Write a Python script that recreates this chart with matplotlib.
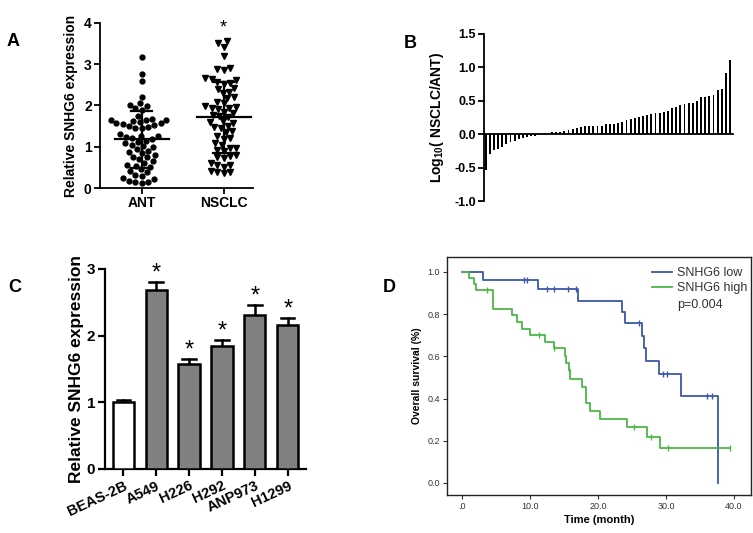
import numpy as np
import matplotlib
matplotlib.use("Agg")
import matplotlib.pyplot as plt

plt.rcParams['font.family'] = ['Liberation Sans', 'DejaVu Sans']
plt.rcParams['mathtext.fontset'] = 'custom'
plt.rcParams['mathtext.rm'] = 'Liberation Sans:bold'
plt.rcParams['mathtext.default'] = 'rm'

# ---------------- data ----------------
# Panel A: scatter of relative SNHG6 expression
group_labels = ["ANT", "NSCLC"]
ant_values = [3.18, 2.76, 2.60, 2.21, 2.05, 2.02, 1.98, 1.93, 1.90,
              1.75, 1.68, 1.66, 1.65, 1.64, 1.62, 1.60, 1.58, 1.57, 1.55,
              1.52, 1.50, 1.48, 1.46, 1.45, 1.30, 1.27, 1.25, 1.24, 1.22,
              1.20, 1.15, 1.12, 1.08, 1.05, 1.02, 1.00, 0.95, 0.90, 0.88,
              0.85, 0.80, 0.76, 0.74, 0.70, 0.65, 0.60, 0.56, 0.54, 0.52,
              0.46, 0.42, 0.38, 0.32, 0.28, 0.25, 0.22, 0.18, 0.15, 0.14, 0.12]
nsclc_values = [3.57, 3.51, 3.43, 3.20, 2.92, 2.88, 2.86, 2.66, 2.64, 2.62,
                2.57, 2.55, 2.52, 2.43, 2.40, 2.33, 2.30, 2.21, 2.18, 2.09,
                2.05, 1.98, 1.96, 1.95, 1.94, 1.92, 1.85, 1.82, 1.76, 1.74,
                1.72, 1.62, 1.60, 1.58, 1.50, 1.48, 1.46, 1.37, 1.35, 1.25,
                1.22, 1.20, 1.08, 1.05, 0.98, 0.96, 0.93, 0.90, 0.80, 0.78,
                0.75, 0.72, 0.60, 0.56, 0.55, 0.52, 0.42, 0.40, 0.38, 0.36]

# Panel B: log10(NSCLC/ANT) waterfall (sorted)
log_ratio = [-0.54, -0.30, -0.24, -0.22, -0.19, -0.15, -0.12, -0.10, -0.07, -0.05,
             -0.04, -0.03, -0.02, -0.01, 0.0, 0.0,
             0.03, 0.04, 0.04, 0.05, 0.06, 0.08, 0.09, 0.11, 0.12, 0.12,
             0.13, 0.13, 0.13, 0.15, 0.16, 0.16, 0.17, 0.19, 0.21, 0.23,
             0.24, 0.25, 0.27, 0.28, 0.30, 0.31, 0.32, 0.33, 0.34, 0.39,
             0.40, 0.43, 0.45, 0.46, 0.47, 0.49, 0.56, 0.56, 0.57, 0.59,
             0.66, 0.67, 0.92, 1.11]

# Panel C: cell lines
cell_lines = ["BEAS-2B", "A549", "H226", "H292", "ANP973", "H1299"]
cell_expr = [1.00, 2.69, 1.57, 1.84, 2.31, 2.16]
cell_err = [0.03, 0.11, 0.08, 0.09, 0.15, 0.11]

# Panel D: Kaplan-Meier
km_low_times = [0, 3.1, 11.2, 17.1, 23.5, 23.9, 26.4, 26.7, 27.1, 28.9, 32.2, 37.7]
km_low_surv = [1.0, 0.96, 0.917, 0.863, 0.81, 0.756, 0.696, 0.64, 0.58, 0.517, 0.413, 0.0]
km_low_censor = [9.1, 9.5, 12.5, 13.5, 15.6, 16.7, 26.1, 29.6, 30.1, 36.1, 36.7]
km_high_times = [0, 1.0, 1.7, 2.0, 4.6, 7.4, 8.1, 8.9, 9.95, 12.2, 13.5, 15.1, 15.3,
                 15.7, 15.9, 17.6, 18.2, 18.8, 20.3, 24.2, 27.2, 29.1]
km_high_surv = [1.0, 0.97, 0.945, 0.915, 0.825, 0.795, 0.765, 0.73, 0.70, 0.67, 0.638,
                0.603, 0.567, 0.535, 0.495, 0.455, 0.38, 0.34, 0.305, 0.265, 0.22, 0.165]
km_high_censor = [3.7, 11.3, 13.6, 15.8, 25.3, 27.8, 30.3, 39.4]
km_labels = ["SNHG6 low", "SNHG6 high"]
p_text = "p=0.004"

# ---------------- figure ----------------
W, H = 753, 533
fig = plt.figure(figsize=(W / 100, H / 100), dpi=100)


def px_axes(left, top, right, bottom):
    return fig.add_axes([left / W, 1 - bottom / H, (right - left) / W, (bottom - top) / H])


def swarm_offsets(vals, xscale, yscale, d):
    """beeswarm offsets (data units) given px/unit scales and point spacing d px"""
    vals = np.asarray(vals, float)
    order = np.argsort(vals)
    placed = []
    offs = np.zeros(len(vals))
    for i in order:
        y = vals[i] * yscale
        cands = [0.0]
        for (px, py) in placed:
            dy = y - py
            if abs(dy) < d:
                dx = np.sqrt(d * d - dy * dy)
                cands += [px + dx, px - dx]
        cands = sorted(cands, key=lambda c: (abs(c), c))
        for c in cands:
            ok = all((c - px) ** 2 + (y - py) ** 2 >= d * d - 1e-6 for (px, py) in placed)
            if ok:
                placed.append((c, y))
                offs[i] = c / xscale
                break
    return offs


BOLD = 'bold'

# ---------------- Panel A ----------------
axA = px_axes(100, 23, 253, 188)
xlimA = (-0.51, 1.36)
axA.set_xlim(*xlimA)
axA.set_ylim(0, 4)
xsc = 153 / (xlimA[1] - xlimA[0])
ysc = 165 / 4
for gi, (vals, mk, ms) in enumerate([(ant_values, 'o', 3.5), (nsclc_values, 'v', 3.7)]):
    offs = swarm_offsets(vals, xsc, ysc, 6.5)
    axA.plot(gi + offs, vals, linestyle='none', marker=mk, ms=ms, color='black',
             clip_on=False, zorder=2)
    m = np.mean(vals)
    s = np.std(vals, ddof=1)
    axA.plot([gi - 0.33, gi + 0.33], [m, m], color='black', lw=1.6, zorder=3)
    axA.plot([gi, gi], [m - s, m + s], color='black', lw=1.6, zorder=3)
    for yy in (m - s, m + s):
        axA.plot([gi - 0.13, gi + 0.13], [yy, yy], color='black', lw=1.6, zorder=3)
axA.text(1, 3.68, '*', ha='center', va='bottom', fontsize=13)
axA.set_xticks([0, 1])
axA.set_xticklabels(group_labels, fontsize=10, fontweight=BOLD)
axA.set_yticks([0, 1, 2, 3, 4])
axA.set_yticklabels(['0', '1', '2', '3', '4'], fontsize=10, fontweight=BOLD)
axA.set_ylabel('Relative SNHG6 expression', fontsize=10, fontweight=BOLD, labelpad=4)
for sp in ['top', 'right']:
    axA.spines[sp].set_visible(False)
for sp in ['left', 'bottom']:
    axA.spines[sp].set_linewidth(1.3)
axA.tick_params(width=1.3, length=4, pad=2)
fig.text(7 / W, 1 - 42 / H, 'A', fontsize=13, fontweight=BOLD, va='center', ha='left')

# ---------------- Panel B ----------------
axB = px_axes(484, 34, 733, 201)
axB.set_xlim(-0.4, len(log_ratio) - 0.3)
axB.set_ylim(-1.0, 1.5)
axB.bar(np.arange(len(log_ratio)), log_ratio, width=0.45, color='black', edgecolor='none')
axB.spines['bottom'].set_position(('data', 0))
for sp in ['top', 'right']:
    axB.spines[sp].set_visible(False)
for sp in ['left', 'bottom']:
    axB.spines[sp].set_linewidth(1.3)
axB.set_xticks([])
axB.set_yticks([-1.0, -0.5, 0.0, 0.5, 1.0, 1.5])
axB.set_yticklabels(['-1.0', '-0.5', '0.0', '0.5', '1.0', '1.5'], fontsize=9, fontweight=BOLD)
axB.tick_params(axis='y', width=1.3, length=4, pad=2)
axB.set_ylabel('Log$_{10}$( NSCLC/ANT)', fontsize=10, fontweight=BOLD, labelpad=6)
fig.text(404 / W, 1 - 43 / H, 'B', fontsize=13, fontweight=BOLD, va='center', ha='left')

# ---------------- Panel C ----------------
axC = px_axes(105, 269, 306, 469)
axC.set_xlim(-0.55, len(cell_lines) - 0.45)
axC.set_ylim(0, 3)
xc = np.arange(len(cell_lines))
colors = ['white'] + ['#808080'] * (len(cell_lines) - 1)
axC.bar(xc, cell_expr, width=0.64, color=colors, edgecolor='black', linewidth=1.8, zorder=3)
for xi, v, e in zip(xc, cell_expr, cell_err):
    axC.plot([xi, xi], [v, v + e], color='black', lw=1.8, zorder=2)
    axC.plot([xi - 0.2, xi + 0.2], [v + e, v + e], color='black', lw=1.8, zorder=2)
    if xi > 0:
        axC.text(xi, v + e - 0.04, '*', ha='center', va='bottom', fontsize=17)
axC.set_xticks(xc)
axC.set_xticklabels(cell_lines, rotation=25, ha='right', rotation_mode='anchor',
                    fontsize=10.5, fontweight=BOLD)
axC.set_yticks([0, 1, 2, 3])
axC.set_yticklabels(['0', '1', '2', '3'], fontsize=11, fontweight=BOLD)
axC.set_ylabel('Relative SNHG6 expression', fontsize=12.5, fontweight=BOLD, labelpad=2)
for sp in ['top', 'right']:
    axC.spines[sp].set_visible(False)
for sp in ['left', 'bottom']:
    axC.spines[sp].set_linewidth(1.6)
axC.tick_params(width=1.6, length=5, pad=2)
fig.text(8 / W, 1 - 287 / H, 'C', fontsize=13, fontweight=BOLD, va='center', ha='left')

# ---------------- Panel D ----------------
axD = px_axes(447, 257, 751, 495)
axD.set_xlim(-2.2, 42.5)
axD.set_ylim(-0.057, 1.071)
blue = '#3b58a8'
green = '#4cb848'
for times, surv, cens, col, lab in [
        (km_low_times, km_low_surv, km_low_censor, blue, km_labels[0]),
        (km_high_times, km_high_surv, km_high_censor, green, km_labels[1])]:
    t = list(times)
    s = list(surv)
    tend = max(cens)
    if tend > t[-1] and s[-1] > 0:
        t = t + [tend]
        s = s + [s[-1]]
    axD.plot(t, s, drawstyle='steps-post', color=col, lw=1.3, label=lab)
    ct = np.asarray(cens)
    idx = np.searchsorted(np.asarray(times), ct, side='right') - 1
    cs = np.asarray(surv)[idx]
    axD.plot(ct, cs, linestyle='none', marker='|', ms=4, mew=1.0, color=col)
leg = axD.legend(loc='upper left', frameon=False, fontsize=9, handlelength=1.6,
                 borderaxespad=0, borderpad=0, handletextpad=0.4, labelspacing=0.28,
                 bbox_to_anchor=(0.674, 0.958))
for txt in leg.get_texts():
    txt.set_color('#333333')
axD.text(0.757, 0.798, p_text, transform=axD.transAxes, fontsize=9, color='#333333',
         ha='left', va='center')
axD.set_xticks([0, 10, 20, 30, 40])
axD.set_xticklabels(['.0', '10.0', '20.0', '30.0', '40.0'], fontsize=6.5, color='#333333')
axD.set_yticks([0, 0.2, 0.4, 0.6, 0.8, 1.0])
axD.set_yticklabels(['0.0', '0.2', '0.4', '0.6', '0.8', '1.0'], fontsize=6.5, color='#333333')
axD.set_xlabel('Time (month)', fontsize=8, fontweight=BOLD, labelpad=3)
axD.set_ylabel('Overall survival (%)', fontsize=7.5, fontweight=BOLD, labelpad=4)
for sp in axD.spines.values():
    sp.set_linewidth(1.0)
    sp.set_color('#222222')
axD.tick_params(width=0.8, length=3, pad=2, colors='#333333')
fig.text(383 / W, 1 - 287 / H, 'D', fontsize=13, fontweight=BOLD, va='center', ha='left')

fig.savefig('out.png', dpi=100)
